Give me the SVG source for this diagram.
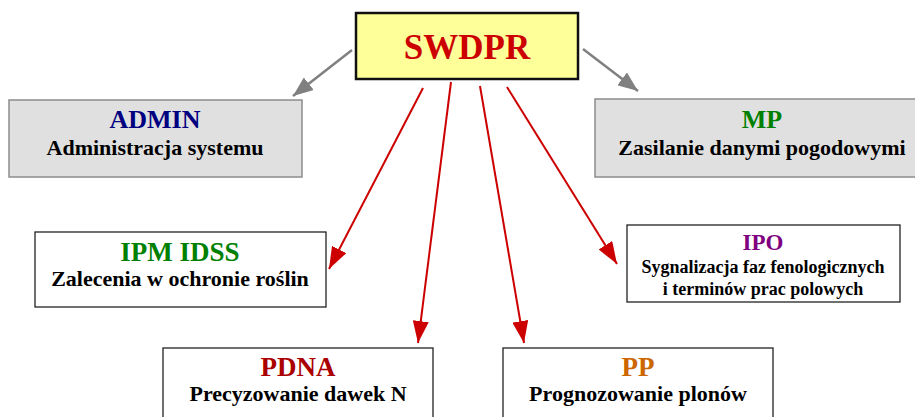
<svg xmlns="http://www.w3.org/2000/svg" width="915" height="417" viewBox="0 0 915 417">
<defs>
<marker id="ar" markerWidth="22" markerHeight="16" refX="22" refY="8" orient="auto" markerUnits="userSpaceOnUse" viewBox="0 0 22 16"><path d="M0,0 L22,8 L0,16 Z" fill="#cc0000"/></marker>
<marker id="ag" markerWidth="20" markerHeight="16" refX="20" refY="8" orient="auto" markerUnits="userSpaceOnUse" viewBox="0 0 20 16"><path d="M0,0 L20,8 L0,16 Z" fill="#808080"/></marker>
</defs>
<style>
text{font-family:"Liberation Serif","Times New Roman",serif;font-weight:bold;text-anchor:middle}
.t{font-size:22px;fill:#000}
.s{font-size:18px;fill:#000}
.gray{fill:#e0e0e0;stroke:#8c8c8c;stroke-width:1.5}
.wh{fill:#fff;stroke:#222;stroke-width:1.3}
.red{stroke:#cc0000;stroke-width:2;fill:none}
.gr{stroke:#808080;stroke-width:2.5;fill:none}
</style>
<rect width="915" height="417" fill="#fff"/>
<g id="connectors">
<line class="gr" x1="352" y1="50" x2="293" y2="96" marker-end="url(#ag)"/>
<line class="gr" x1="583" y1="49" x2="638" y2="91" marker-end="url(#ag)"/>
<path class="red" d="M423,88 L329,269" marker-end="url(#ar)"/>
<path class="red" d="M451,82 L418,343" marker-end="url(#ar)"/>
<path class="red" d="M480,86 L524,343" marker-end="url(#ar)"/>
<path class="red" d="M507,87 L617,264" marker-end="url(#ar)"/>
</g>
<g id="swdpr">
<rect x="356" y="13" width="222" height="66" fill="#ffff99" stroke="#111" stroke-width="2.5"/>
<text x="467" y="59" style="font-size:35px;fill:#cc0000">SWDPR</text>
</g>
<g id="admin">
<rect class="gray" x="9" y="100" width="293" height="77"/>
<text x="155" y="128" style="font-size:26px;fill:#000080">ADMIN</text>
<text class="t" x="155" y="155">Administracja systemu</text>
</g>
<g id="mp">
<rect class="gray" x="595" y="99" width="325" height="78"/>
<text x="762" y="128" style="font-size:26px;fill:#008000">MP</text>
<text class="t" x="762" y="155">Zasilanie danymi pogodowymi</text>
</g>
<g id="ipm">
<rect class="wh" x="35" y="232" width="291" height="75"/>
<text x="180" y="261" style="font-size:27px;fill:#008000">IPM IDSS</text>
<text class="t" x="180" y="286">Zalecenia w ochronie roślin</text>
</g>
<g id="ipo">
<rect class="wh" x="627" y="225" width="273" height="77"/>
<text x="763" y="250" style="font-size:23px;fill:#800080">IPO</text>
<text class="s" x="763" y="273">Sygnalizacja faz fenologicznych</text>
<text class="s" x="763" y="295">i terminów prac polowych</text>
</g>
<g id="pdna">
<rect class="wh" x="163" y="348" width="270" height="80"/>
<text x="298" y="376" style="font-size:27px;fill:#aa0000">PDNA</text>
<text class="t" x="298" y="401">Precyzowanie dawek N</text>
</g>
<g id="pp">
<rect class="wh" x="503" y="348" width="270" height="80"/>
<text x="638" y="376" style="font-size:27px;fill:#cc6600">PP</text>
<text class="t" x="638" y="401">Prognozowanie plonów</text>
</g>
</svg>
